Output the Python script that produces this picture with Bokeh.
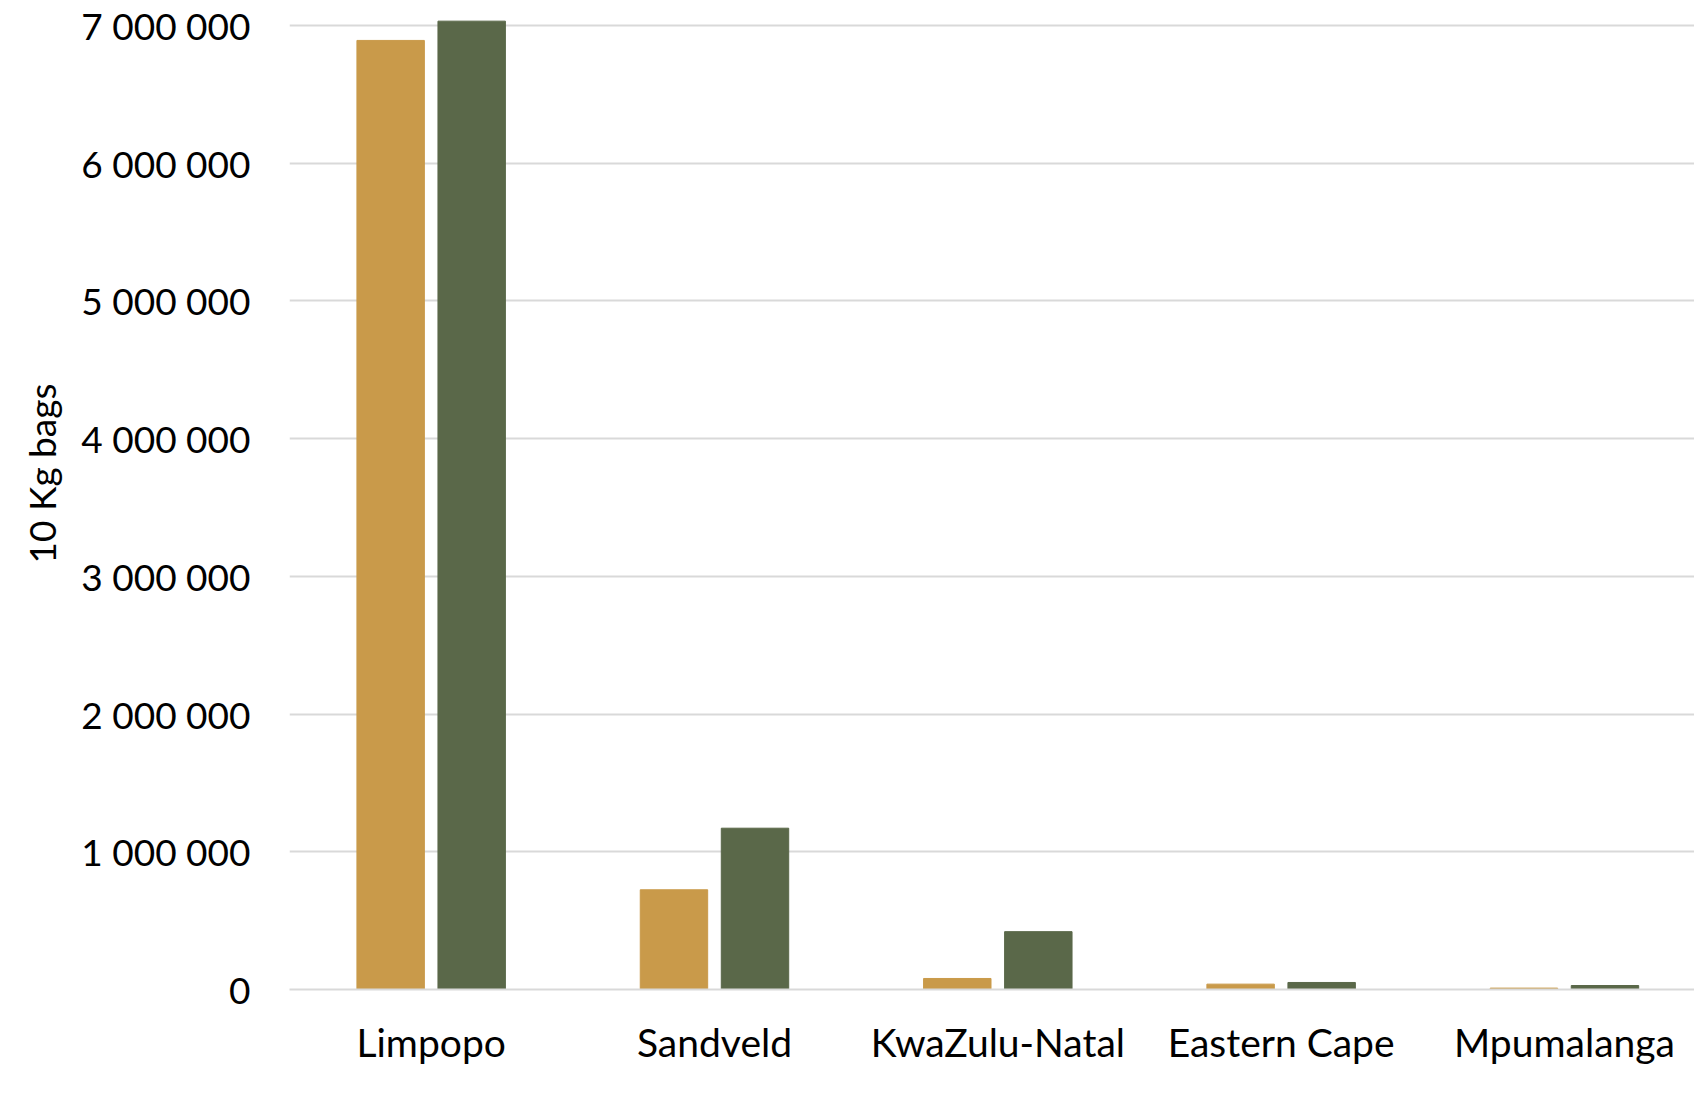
from bokeh.plotting import figure
from bokeh.models import ColumnDataSource, Range1d, FixedTicker, Legend, LegendItem, Title
from bokeh.transform import dodge
from bokeh.embed import file_html
from bokeh.resources import INLINE

categories = ["Limpopo", "Sandveld", "KwaZulu-Natal", "Eastern Cape", "Mpumalanga"]
oct_21 = [6890000, 724000, 80000, 39000, 10000]
nov_21 = [7030000, 1171000, 420000, 51000, 29000]
series_names = ["Oct-21", "Nov-21"]
y_ticks = [0, 1000000, 2000000, 3000000, 4000000, 5000000, 6000000, 7000000]
y_tick_labels = ["0", "1 000 000", "2 000 000", "3 000 000", "4 000 000",
                 "5 000 000", "6 000 000", "7 000 000"]

OCT_COLOR = "#C99A4A"
NOV_COLOR = "#5A6849"
FONT = "Lato"

xs = [i + 0.5 for i in range(len(categories))]
source = ColumnDataSource(data=dict(x=xs, cat=categories, oct=oct_21, nov=nov_21))

p = figure(frame_width=1405, frame_height=978, output_backend="svg",
           toolbar_location=None,
           x_range=Range1d(0, 4.959), y_range=Range1d(0, 7100000),
           min_border_left=289, min_border_right=0, min_border_top=11,
           min_border_bottom=0)

r_oct = p.vbar(x=dodge("x", -0.143), top="oct", width=0.238, source=source,
               fill_color=OCT_COLOR, line_color=OCT_COLOR)
r_nov = p.vbar(x=dodge("x", 0.143), top="nov", width=0.238, source=source,
               fill_color=NOV_COLOR, line_color=NOV_COLOR)

p.outline_line_color = None
p.background_fill_color = "white"
p.border_fill_color = "white"

# x axis
p.xaxis.ticker = FixedTicker(ticks=xs)
p.xaxis.major_label_overrides = {x: c for x, c in zip(xs, categories)}
p.xaxis.major_tick_line_color = None
p.xaxis.minor_tick_line_color = None
p.xaxis.major_tick_out = 0
p.xaxis.major_label_standoff = 29
p.xaxis.axis_line_color = "#D9D9D9"
p.xaxis.axis_line_width = 2
p.xaxis.major_label_text_font = FONT
p.xaxis.major_label_text_font_size = "39px"
p.xaxis.major_label_text_color = "black"

# y axis
p.yaxis.ticker = FixedTicker(ticks=y_ticks)
p.yaxis.major_label_overrides = {t: l for t, l in zip(y_ticks, y_tick_labels)}
p.yaxis.axis_line_color = None
p.yaxis.major_tick_line_color = None
p.yaxis.minor_tick_line_color = None
p.yaxis.major_tick_out = 0
p.yaxis.major_label_standoff = 39
p.yaxis.major_label_text_font = FONT
p.yaxis.major_label_text_font_size = "37px"
p.yaxis.major_label_text_color = "black"

p.xgrid.grid_line_color = None
p.ygrid.grid_line_color = "#D9D9D9"
p.ygrid.grid_line_width = 2
p.ygrid.ticker = FixedTicker(ticks=y_ticks)

ylab = Title(text="10 Kg bags", text_font=FONT, text_font_size="37px",
             text_font_style="normal", text_color="black", align="left",
             offset=426, standoff=30)
p.add_layout(ylab, "left")

legend = Legend(items=[LegendItem(label=series_names[0], renderers=[r_oct]),
                       LegendItem(label=series_names[1], renderers=[r_nov])],
                orientation="horizontal", location=(429, 0),
                border_line_color=None, background_fill_alpha=0,
                padding=0, margin=0, spacing=33, label_standoff=11,
                glyph_width=25, glyph_height=25, label_height=50,
                label_text_font=FONT, label_text_font_size="38px",
                label_text_color="black")
p.add_layout(legend, "below")

open("out.html", "w").write(file_html(p, INLINE))
